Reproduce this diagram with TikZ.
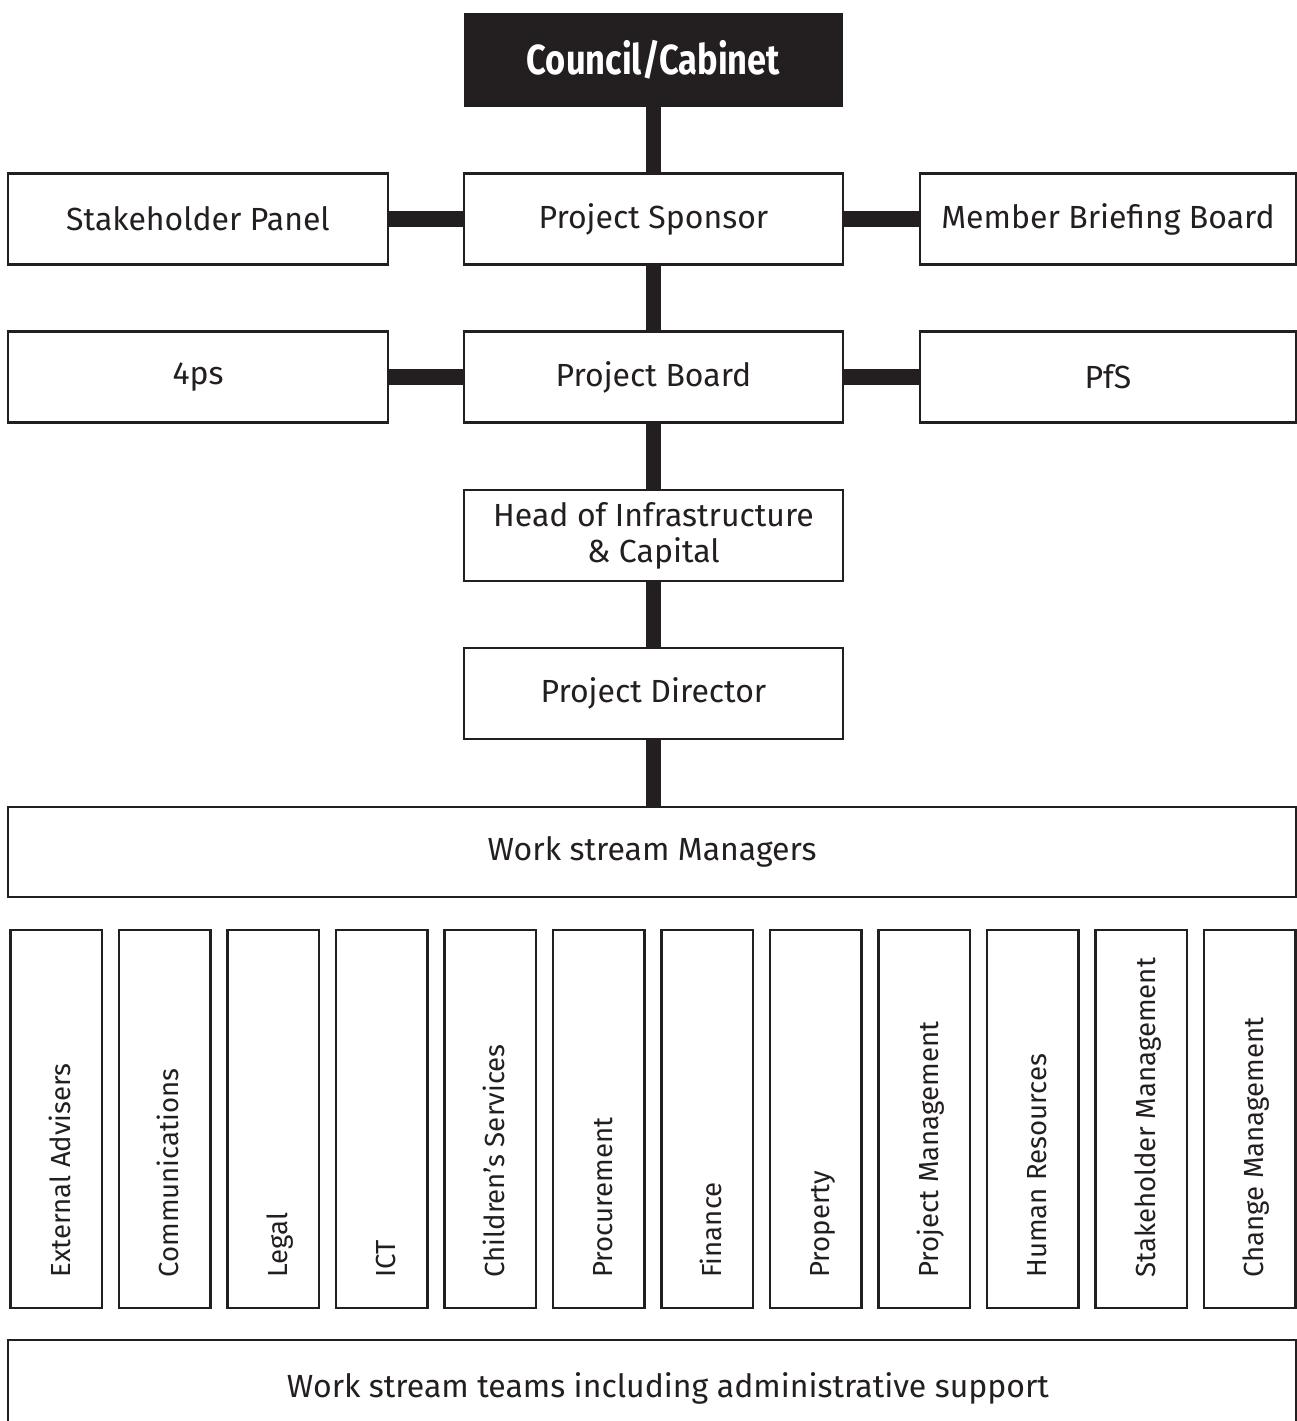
\documentclass[tikz,border=0pt]{standalone}
\usepackage{fontspec}
\setmainfont{Fira Sans}
\newfontfamily\cbold{Fira Sans}[FakeStretch=0.82]
\definecolor{ink}{HTML}{231F20}
\begin{document}
\begin{tikzpicture}[x=0.5pt,y=-0.5pt,
  box/.style={draw=ink,line width=1.25pt,fill=white,inner sep=0pt,outer sep=0pt,
    font=\fontsize{16}{18}\selectfont,text=ink,align=center},
  topbox/.style={fill=ink,inner sep=0pt,outer sep=0pt,text=white,
    font=\cbold\bfseries\fontsize{21}{24}\selectfont},
  conn/.style={draw=ink,line width=7.75pt},
  vbox/.style={draw=ink,line width=1.25pt,inner sep=0pt,outer sep=0pt,
    minimum width=45.75pt,minimum height=189pt},
  vlab/.style={rotate=90,anchor=base west,inner sep=0pt,text=ink,
    font=\fontsize{13.8}{16}\selectfont}]
\useasboundingbox (0,0) rectangle (1297,1421);
% main column
\node[topbox,minimum width=189.5pt,minimum height=47pt] (cc) at (653.5,60) {Council/Cabinet};
\node[box,minimum width=189.5pt,minimum height=45.5pt] (ps) at (653.5,219) {Project Sponsor};
\node[box,minimum width=190pt,minimum height=45.5pt] (sh) at (198,219) {Stakeholder Panel};
\node[box,minimum width=188pt,minimum height=45.5pt] (mb) at (1108,219) {Member Briefing Board};
\node[box,minimum width=189.5pt,minimum height=45.5pt] (pb) at (653.5,377) {Project Board};
\node[box,minimum width=190pt,minimum height=45.5pt] (fp) at (198,377) {4ps};
\node[box,minimum width=188pt,minimum height=45.5pt] (pfs) at (1108,377) {PfS};
\node[box,minimum width=189.5pt,minimum height=45.5pt] (hi) at (653.5,535.5) {Head of Infrastructure\\\& Capital};
\node[box,minimum width=189.5pt,minimum height=45.5pt] (pd) at (653.5,693.5) {Project Director};
\node[box,minimum width=644pt,minimum height=45pt] (wm) at (652,852) {Work stream Managers};
\node[box,minimum width=644pt,minimum height=46pt] (wt) at (652,1386) {};
\node[anchor=base,inner sep=0pt,text=ink,font=\fontsize{16}{18}\selectfont] (wtl) at (668,1397) {Work stream teams including administrative support};
% connectors
\draw[conn] (cc.south) -- (ps.north);
\draw[conn] (ps.south) -- (pb.north);
\draw[conn] (pb.south) -- (hi.north);
\draw[conn] (hi.south) -- (pd.north);
\draw[conn] (pd.south) -- (wm.north -| pd.south);
\draw[conn] (sh.east) -- (ps.west);
\draw[conn] (ps.east) -- (mb.west);
\draw[conn] (fp.east) -- (pb.west);
\draw[conn] (pb.east) -- (pfs.west);
% redraw borders over connector ends
\foreach \n in {ps,sh,mb,pb,fp,pfs,hi,pd,wm} {\draw[ink,line width=1.25pt] (\n.north west) rectangle (\n.south east);}
% vertical work streams
\foreach \i/\t [count=\k from 0] in {
  a/External Advisers, b/Communications, c/Legal, d/ICT,
  e/Children’s Services, f/Procurement, g/Finance, h/Property,
  i/Project Management, j/Human Resources, k/Stakeholder Management,
  l/Change Management} {
  \node[vbox] (v\i) at ({56+108.5*\k},1119) {};
  \node[vlab] (t\i) at ({56+108.5*\k+14},1278) {\t};
}
\end{tikzpicture}
\end{document}
